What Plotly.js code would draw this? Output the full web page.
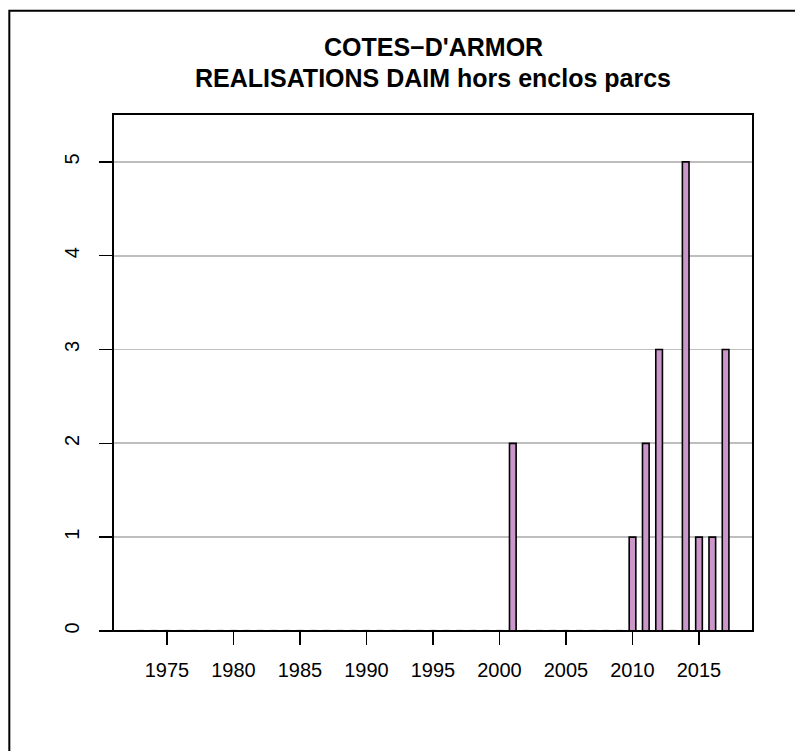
<!DOCTYPE html>
<html>
<head>
<meta charset="utf-8">
<script src="https://cdn.plot.ly/plotly-3.0.1.min.js"></script>
<style>html,body{margin:0;padding:0;background:#fff;}#chart{width:795px;height:751px;}</style>
</head>
<body>
<div id="chart"></div>
<script>
// Data
const years = [];
for (let y = 1973; y <= 2017; y++) years.push(y);
const nonZeroYears = [2001, 2010, 2011, 2012, 2014, 2015, 2016, 2017];
const nonZeroValues = [2, 1, 2, 3, 5, 1, 1, 3];
const counts = years.map(y => { const i = nonZeroYears.indexOf(y); return i >= 0 ? nonZeroValues[i] : 0; });
const xTicks = [1975, 1980, 1985, 1990, 1995, 2000, 2005, 2010, 2015];
const yTicks = [0, 1, 2, 3, 4, 5];
const titleLines = ["COTES\u2212D'ARMOR", "REALISATIONS DAIM hors enclos parcs"];

const barWidth = 0.5;

// zero-height bars drawn as outline segments
const zx = [], zy = [];
years.forEach((y, i) => {
  if (counts[i] === 0) { zx.push(y - barWidth / 2, y + barWidth / 2, null); zy.push(0, 0, null); }
});

const traces = [
  {
    type: 'bar', x: years, y: counts, width: barWidth,
    marker: { color: '#CB97CB', line: { color: '#000', width: 1.6 } },
    hoverinfo: 'x+y', showlegend: false
  },
  {
    type: 'scatter', mode: 'lines', x: zx, y: zy,
    line: { color: '#000', width: 2.2 }, hoverinfo: 'skip', showlegend: false, cliponaxis: false
  }
];

const fam = 'Liberation Sans, Arial, Helvetica, sans-serif';
const font = { family: fam, size: 20, color: '#000' };

const layout = {
  width: 795, height: 751,
  margin: { l: 113, r: 42, t: 114, b: 120 },
  paper_bgcolor: '#fff', plot_bgcolor: '#fff',
  font: font,
  showlegend: false,
  bargap: 0,
  xaxis: {
    range: [1970.94, 2019.06], tickmode: 'array', tickvals: xTicks,
    ticktext: xTicks.map(String),
    ticks: 'outside', ticklen: 13, tickwidth: 1.6, tickcolor: '#000',
    showgrid: false, zeroline: false, showline: false,
    ticklabelstandoff: 8, tickfont: font
  },
  yaxis: {
    range: [0, 5.51], tickmode: 'array', tickvals: yTicks,
    ticktext: yTicks.map(String),
    ticks: 'outside', ticklen: 13, tickwidth: 1.6, tickcolor: '#000',
    showgrid: true, gridcolor: '#BEBEBE', gridwidth: 1.8,
    zeroline: false, showline: false, tickangle: -90,
    ticklabelstandoff: 12, tickfont: font
  },
  shapes: [
    { type: 'rect', xref: 'paper', yref: 'paper', x0: 0, x1: 1, y0: 0, y1: 1,
      line: { color: '#000', width: 2 }, fillcolor: 'rgba(0,0,0,0)', layer: 'above' },
    { type: 'rect', xref: 'paper', yref: 'paper', x0: -0.162, x1: 1.1, y0: -0.3, y1: 1.1995,
      line: { color: '#000', width: 2 }, fillcolor: 'rgba(0,0,0,0)', layer: 'above' }
  ],
  annotations: [
    { text: '<b>' + titleLines[0] + '</b>', xref: 'paper', yref: 'paper', x: 0.5, y: 1.1296,
      xanchor: 'center', yanchor: 'middle', showarrow: false,
      font: { family: fam, size: 25, color: '#000' } },
    { text: '<b>' + titleLines[1] + '</b>', xref: 'paper', yref: 'paper', x: 0.5, y: 1.0696,
      xanchor: 'center', yanchor: 'middle', showarrow: false,
      font: { family: fam, size: 25, color: '#000' } }
  ]
};

Plotly.newPlot('chart', traces, layout, { displayModeBar: false, staticPlot: true });
</script>
</body>
</html>
